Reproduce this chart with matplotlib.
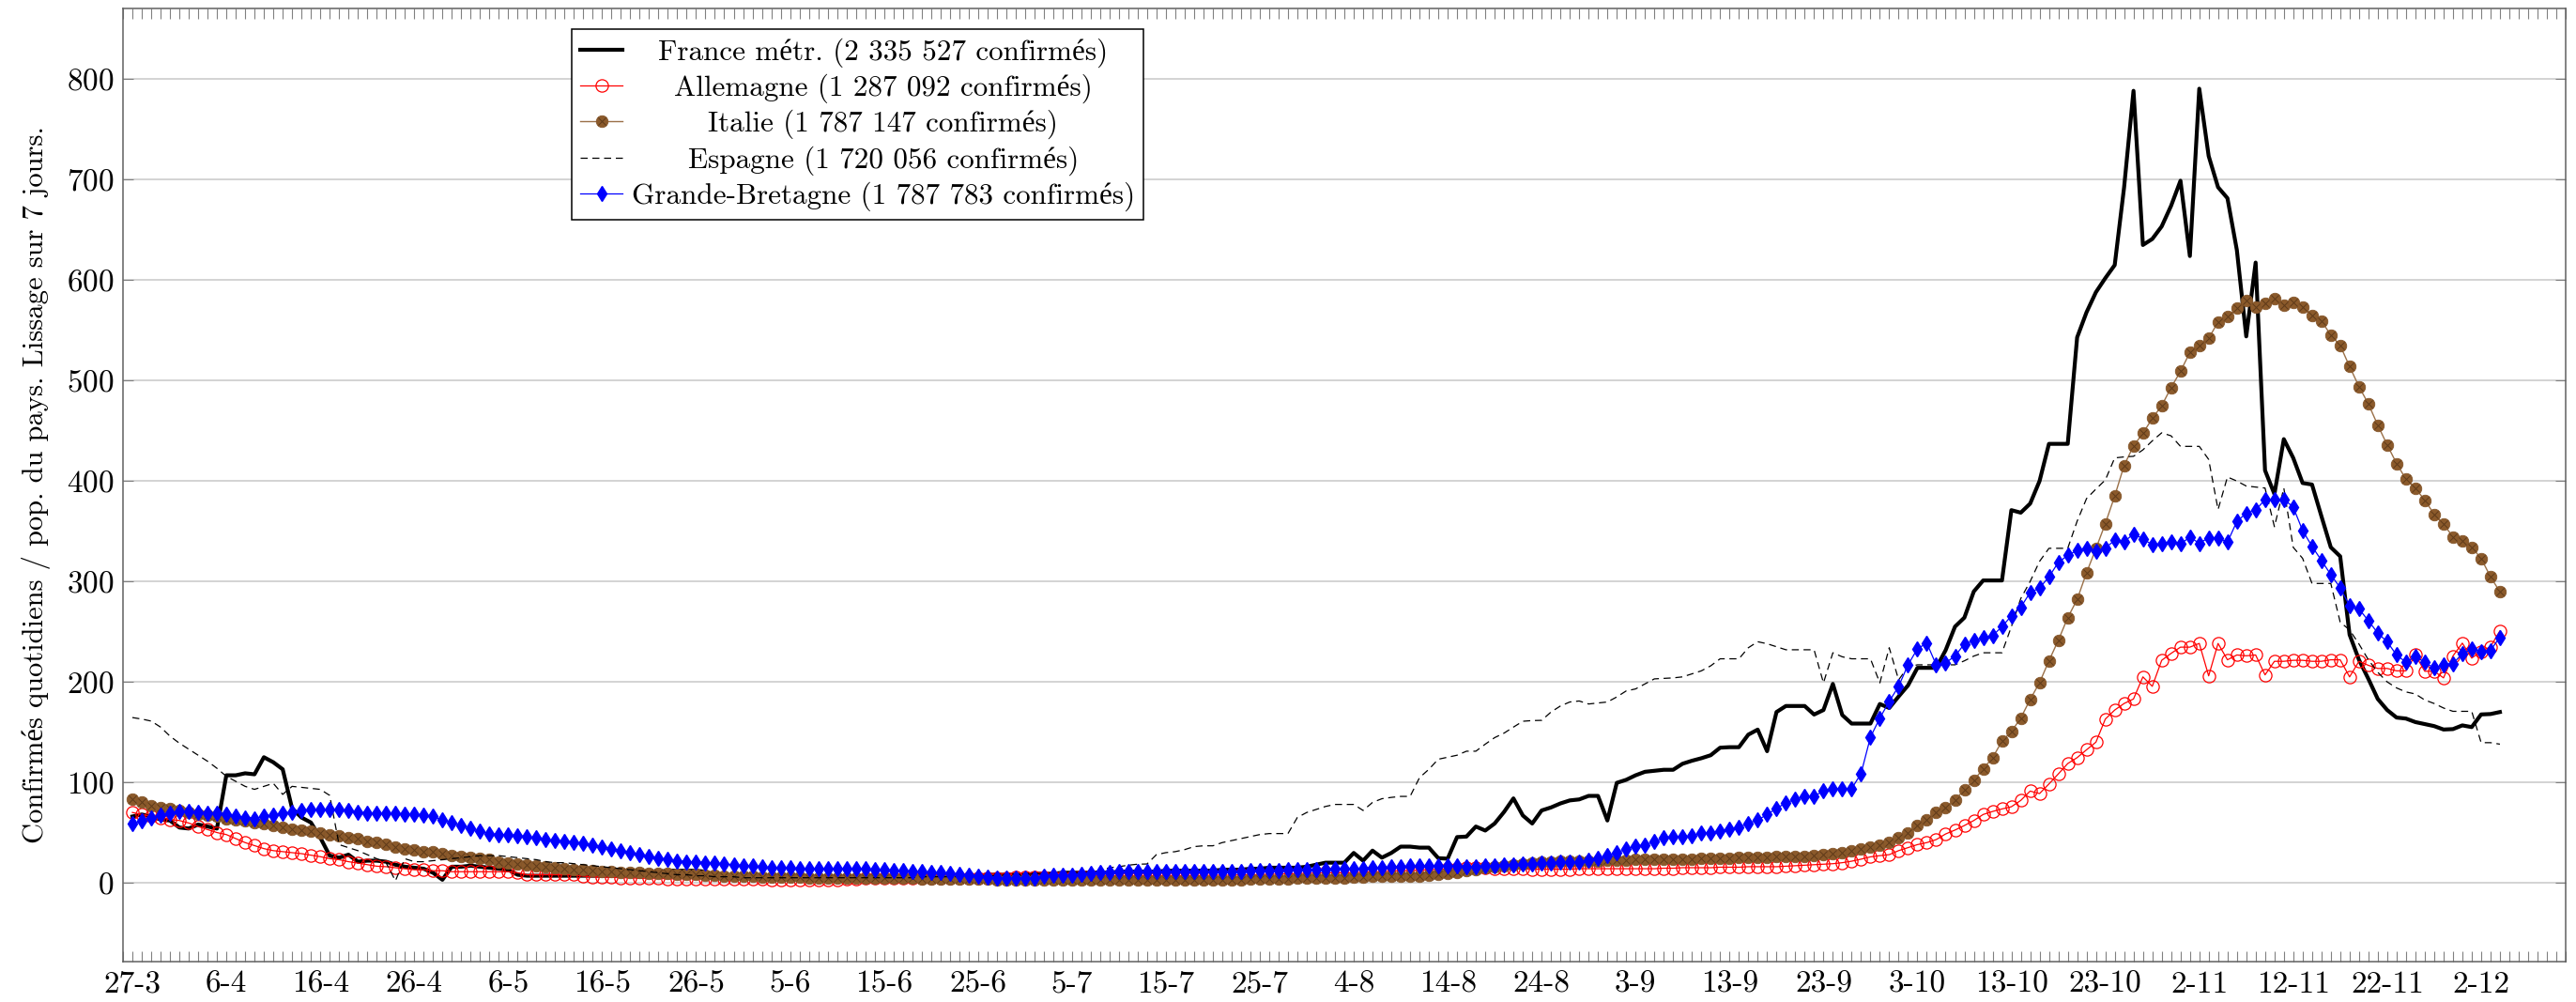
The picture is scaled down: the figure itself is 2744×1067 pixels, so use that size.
import numpy as np
import pandas as pd
import matplotlib
matplotlib.use('Agg')
import matplotlib.pyplot as plt
from matplotlib.ticker import MultipleLocator
from matplotlib.legend_handler import HandlerTuple

# daily values, confirmed cases per million, 7-day smoothing, from 27-3-2020
france = [
    66, 68, 66, 63, 62, 55, 54, 58, 56, 54,
    107, 107, 109, 108, 125, 120, 113, 74, 65, 60,
    45, 27, 25, 28, 21, 22, 22, 21, 18, 16,
    15, 14, 10, 3, 16, 16, 17, 16, 15, 14,
    13, 8, 7, 7, 7, 7, 7, 7, 7, 7,
    7, 7, 7, 7, 7, 8, 11, 12, 12, 12,
    12, 11, 8, 6, 5, 5, 5, 5, 5, 5,
    5, 5, 5, 5, 5, 5, 5, 5, 5, 6,
    6, 6, 6, 6, 6, 6, 7, 7, 7, 7,
    7, 8, 8, 8, 8, 8, 9, 9, 9, 10,
    10, 10, 10, 10, 10, 11, 11, 11, 11, 11,
    12, 12, 12, 12, 12, 12, 13, 13, 13, 14,
    14, 15, 15, 15, 15, 16, 18, 20, 20, 20,
    29.7, 22, 32, 25, 29.7, 36, 36, 35, 35, 24.5,
    24, 45.5, 46, 56, 52, 59, 70.5, 84, 67, 59,
    72, 75, 79, 82, 83, 86.5, 86.5, 62, 99.5, 102.5,
    107, 110.5, 111.5, 112.5, 112.5, 118.5, 121.5, 124, 127, 134.5,
    135, 135, 147.5, 152.5, 131, 170, 176, 176, 176, 167.5,
    172, 198, 167, 158.5, 158.5, 158.5, 178, 174, 185.5, 196.5,
    214, 214, 214, 231.5, 255, 264, 290, 301, 301, 301,
    371, 368.5, 377.5, 400, 437, 437, 437, 543, 568, 588,
    602, 615, 692.5, 788.5, 635, 641, 653.5, 674, 699, 624,
    790.6, 723.6, 692.5, 681.6, 630, 544, 617.5, 410.6, 387, 441.7,
    423, 398, 396.5, 365, 334, 325, 247, 222, 203, 183,
    172, 164.5, 163.5, 160, 158, 156, 152.6, 153, 156.7, 155,
    167.6, 168, 170,
]

allemagne = [
    70, 68, 66, 65, 63, 62, 59.5, 56, 53, 50,
    48, 44, 40, 37, 34, 32, 31, 30, 29, 27.5,
    26, 24, 23, 21, 19.6, 18, 16.5, 16, 15, 14,
    13, 13, 12, 12, 11, 11, 11, 11, 11, 11,
    11, 10, 8, 8, 8, 8, 8, 8, 6.5, 6,
    6, 5.5, 5, 5, 4.5, 4.5, 4.5, 4, 4, 4,
    4, 4, 3.5, 3.5, 3.5, 3.5, 3.5, 3.5, 3, 3,
    3, 3, 3, 3, 3, 3, 3.5, 4, 4.5, 4.5,
    5, 5, 5, 5, 5, 5, 5, 5, 5, 5,
    5, 5, 5, 5, 5.5, 5.5, 5.5, 6, 6, 6,
    6, 6.5, 7, 7, 7, 7, 7, 7, 7, 7,
    7, 7, 7, 7, 7, 7.5, 7.5, 7.5, 8, 8,
    8, 8.5, 8.5, 9, 9, 9.5, 9.5, 10, 10, 10,
    10, 10.5, 11, 11, 11.5, 12, 12, 12.5, 13, 13.5,
    14, 14.5, 15, 15, 15, 14.5, 14, 14, 14, 13.5,
    13.5, 13.5, 13.5, 13.5, 14, 14, 14, 14, 14, 14,
    14, 14, 14, 14.5, 14.5, 15, 15, 15, 15, 15.5,
    15.5, 15.5, 16, 16, 16, 16, 16.5, 17, 17.5, 18,
    18.5, 19, 20, 21.5, 23.5, 25.8, 27, 28, 32, 35,
    38, 40, 43, 48.6, 52.5, 57, 62, 68, 71, 73.5,
    75.7, 82, 91.3, 88.8, 98.4, 108.4, 118.7, 124.6, 132.4, 140,
    163, 172, 178.5, 183, 205, 195.6, 221.5, 228.4, 234.6, 234.6,
    238.3, 206, 238.3, 222, 226.8, 226, 226.8, 207, 220.5, 220.5,
    221.5, 221.5, 220.5, 220.5, 222, 222, 205, 220.5, 216.5, 213.4,
    213.4, 211, 211, 226.8, 210.6, 210.6, 204, 225.8, 238.6, 223.7,
    230.5, 235, 250.8,
]

italie = [
    83, 80, 77, 75, 73.5, 72, 70, 68.5, 67, 66,
    64, 63, 62, 60, 58.5, 57, 55, 53, 52, 51,
    50, 48, 47, 45, 43.6, 41, 40, 38, 36, 34,
    33, 31, 30.5, 29, 27.5, 26.5, 25, 24, 23, 21,
    19.6, 18.7, 17.4, 16.5, 15.6, 14.6, 14, 13.4, 12.8, 12,
    11.5, 11, 10.5, 10, 10, 9.5, 9, 9, 8.5, 8,
    8, 7.5, 7.5, 7, 7, 6.5, 6.5, 6, 6, 5.5,
    5.5, 5.5, 5, 5, 5, 5, 5, 4.8, 4.8, 4.7,
    4.7, 4.5, 4.5, 4.3, 4.2, 4, 4, 3.8, 3.7, 3.6,
    3.5, 3.4, 3.3, 3.2, 3.1, 3, 3, 3, 3, 3,
    3, 3, 3, 3, 3, 3, 3, 3, 3, 3,
    3, 3, 3, 3, 3, 3, 3, 3, 3.2, 3.4,
    3.6, 3.8, 4, 4.2, 4.4, 4.6, 4.7, 4.7, 4.7, 5,
    5.5, 6, 6.5, 7, 7, 7, 7, 7, 7.5, 8,
    9, 10, 12, 13.5, 15, 16, 17, 17.5, 18.5, 19.5,
    20.5, 21, 21.5, 22, 22, 22, 22, 22.5, 22.5, 22.8,
    23, 23, 23, 23.3, 23.5, 23.6, 23.8, 24, 24.2, 24.5,
    24.7, 25, 25, 25.3, 25.5, 25.8, 26, 26.3, 26.6, 27,
    28, 29, 30, 31.4, 33.5, 35.7, 37.8, 40, 45, 49.5,
    56.8, 63, 69.7, 75, 82.6, 92.5, 102, 113.5, 124.5, 141,
    150.5, 164, 182.5, 199.3, 221, 241.5, 264, 282, 308.7, 332.7,
    357.6, 385, 415.5, 435, 447.5, 462.4, 475, 493, 509.2, 528,
    535, 542, 558.4, 563.7, 571.8, 579.6, 573.4, 577, 581.8, 574.6,
    578, 573.4, 564.7, 559.4, 545.3, 535, 514, 494, 476.8, 455.6,
    436, 417.5, 401.8, 392.8, 381, 367, 357, 344.5, 340.5, 334,
    323, 304.6, 289.7,
]

espagne = [
    164.5, 163, 161, 155, 146, 139, 133, 127, 121, 114,
    106, 101, 96, 93, 96, 99, 88, 96, 95, 94,
    93, 87, 38, 35, 32, 28, 24, 20, 2, 24,
    21, 21, 22, 23, 24, 25, 26, 27, 27, 27,
    26, 25, 24, 23, 21, 20, 20, 19, 18, 17,
    16, 15, 14, 13, 12, 11, 10, 9, 8, 8,
    7, 7, 6, 6, 6, 5, 5, 5, 5, 5,
    5, 5, 5, 5, 5, 5, 5, 5, 5, 5,
    5, 5, 5, 5, 6, 6, 6, 6, 6, 7,
    7, 7, 7, 8, 8, 8, 9, 9, 10, 10,
    10, 10, 10.5, 12, 15, 16, 17.5, 18.5, 18.7, 28,
    30, 31, 33, 36, 36.8, 36.8, 40, 42, 44, 46,
    48, 49, 49, 49, 65, 70, 73, 76, 78, 78,
    78, 72, 80, 83.7, 85, 86, 86, 104.6, 113, 123,
    125, 127, 131, 131, 138, 144.5, 149, 155, 160.8, 161.5,
    161.7, 170, 176, 180, 181, 178, 179, 180, 185, 191,
    193, 198, 203, 203.5, 204, 205, 208, 211, 216, 223,
    223, 223, 234, 240, 238, 235, 232, 232, 232, 232,
    199, 229, 225, 223, 223, 223, 199, 234, 202, 215,
    217, 217, 217, 217, 217, 221, 225.7, 229, 229, 229,
    255, 283, 300, 320, 333, 333, 333, 360, 382.5, 392,
    401, 423, 424, 424.6, 431, 440, 448, 445, 434.5, 434.5,
    434.5, 421.5, 371.6, 404, 400, 395, 394, 393, 354.5, 393,
    334, 323, 298, 298, 298, 259.5, 251.7, 237.7, 222, 209.6,
    200, 194, 190, 188, 182, 178.5, 174, 170.7, 170.7, 170.7,
    139.5, 139.5, 138,
]

grande_bretagne = [
    58.5, 62, 65, 67, 69, 71, 71, 70, 69.5, 69,
    68, 66, 65, 64, 66, 67, 69, 70, 71.6, 72.6,
    73, 73, 72.6, 71.6, 70.4, 69.5, 69.5, 69, 69, 68.5,
    68, 67, 66, 62.6, 60, 57, 54, 51, 49, 48,
    48, 47, 46, 44.5, 43, 42, 41.4, 40.5, 39, 37.4,
    36, 34, 32, 30, 28, 26.5, 24, 23, 22, 21,
    21, 20, 19.7, 18.7, 18, 17, 16.5, 15.6, 15, 14.7,
    14.7, 14.4, 14, 14, 14, 14, 14, 14, 13.7, 13.4,
    13, 12.5, 12, 11.5, 11, 10.3, 10, 9.4, 8.7, 7.8,
    6.9, 5.3, 4.7, 4.7, 4.7, 4.7, 4.7, 6.2, 7.8, 7.8,
    7.8, 8.4, 9, 10, 10.5, 11, 11, 11, 11, 11,
    11, 11, 11, 11, 11, 11, 11, 11, 11.5, 12,
    12, 12, 12.5, 12.8, 13, 13.2, 13.4, 13.4, 13.6, 13.8,
    14, 14.3, 14.7, 15, 15.5, 16, 16.5, 16.5, 17, 17,
    16.5, 16.5, 16, 16, 16.5, 17, 17.5, 18, 18.5, 19,
    19.7, 20, 20.3, 20.5, 20.6, 22.8, 24.5, 27, 30, 33.5,
    36.5, 37.8, 40.8, 45, 46, 46, 46.4, 49.5, 49.5, 51.6,
    53, 55, 59.3, 62.4, 68, 74, 79.6, 83, 86, 86,
    91.6, 93.7, 93.7, 93.7, 108.8, 145, 164, 180.6, 195.6, 217,
    233, 238.6, 217, 219, 225.7, 237.8, 240.8, 244, 246, 255,
    265.7, 274.4, 289, 293.5, 304.6, 319, 326, 331, 333.3, 330,
    333.3, 341, 339.5, 347.3, 342.6, 336.4, 337.3, 339.8, 337.3, 344.2,
    338, 343.6, 343.6, 339, 359.8, 367.9, 371, 381.6, 381.9, 381.9,
    374, 350.7, 335, 321, 306.8, 293.7, 275.7, 272.6, 261, 248.6,
    239.9, 226.8, 219.6, 225.2, 219.6, 213.7, 217.4, 218, 228.3, 232.4,
    230.5, 231.4, 244.5,
]

labels = [
    'France métr. (2 335 527 confirmés)',
    'Allemagne (1 287 092 confirmés)',
    'Italie (1 787 147 confirmés)',
    'Espagne (1 720 056 confirmés)',
    'Grande-Bretagne (1 787 783 confirmés)',
]

dates = pd.date_range('2020-03-27', periods=len(france), freq='D')
jours = np.arange(len(france))
ticks = jours[::10]
tick_labels = [f'{d.day}-{d.month}' for d in dates[::10]]

plt.rcParams['font.family'] = ['cmr10', 'Liberation Serif']
plt.rcParams['mathtext.fontset'] = 'cm'
plt.rcParams['axes.formatter.use_mathtext'] = True

W, H = 2744, 1067
fig = plt.figure(figsize=(W / 100, H / 100), dpi=100)
ax = fig.add_axes([131 / W, 1 - 1024 / H, (2733 - 131) / W, (1024 - 9) / H])

l_fr, = ax.plot(jours, france, color='black', lw=3.0)
l_de, = ax.plot(jours, allemagne, color='red', lw=0.9, marker='o', ms=9.5,
                mfc='none', mec='red', mew=0.9)
l_it, = ax.plot(jours, italie, color='#9a7048', lw=1.0, marker='o', ms=9,
                mfc='#8b5a2b', mec='#84552a', mew=0.6)
x_it, = ax.plot(jours, italie, ls='none', marker='x', ms=5.5, mec='#5e3a1a', mew=0.7)
l_es, = ax.plot(jours, espagne, color='black', lw=0.9, dashes=(6, 4))
l_gb, = ax.plot(jours, grande_bretagne, color='blue', lw=0.9, marker='d', ms=8.5,
                mfc='blue', mec='blue')

ax.set_xlim(-1, 259)
ax.set_ylim(-78.5, 870.5)
ax.set_xticks(ticks)
ax.set_xticklabels(tick_labels)
ax.xaxis.set_minor_locator(MultipleLocator(1))
ax.set_yticks(np.arange(0, 801, 100))

ax.tick_params(axis='both', which='both', direction='in', top=True, right=True,
               length=8, width=0.8, color='#808080', labelsize=24, pad=7)
ax.grid(axis='y', color='#cccccc', lw=1.2)
ax.set_axisbelow(True)
for s in ax.spines.values():
    s.set_color('#606060')
    s.set_linewidth(1.1)

ax.set_ylabel('Confirmés quotidiens / pop. du pays. Lissage sur 7 jours.', fontsize=22, labelpad=12)

handles = [l_fr, l_de, (l_it, x_it), l_es, l_gb]
leg = ax.legend(handles, labels, loc='upper left',
                bbox_to_anchor=(609 / W, 1 - 31 / H), bbox_transform=fig.transFigure,
                borderaxespad=0, fancybox=False, framealpha=1, edgecolor='black',
                fontsize=22.4, handlelength=1.45, handletextpad=0.3, borderpad=0.3,
                labelspacing=0.22, numpoints=1,
                handler_map={tuple: HandlerTuple(ndivide=1)})
leg.get_frame().set_linewidth(1.1)

# centre the legend texts like the original
fig.canvas.draw()
r = fig.canvas.get_renderer()
widths = [t.get_window_extent(r).width for t in leg.get_texts()]
wmax = max(widths)
for t, w in zip(leg.get_texts(), widths):
    t.set_position(((wmax - w) / 2, 0))

fig.savefig('out.png', dpi=100)
